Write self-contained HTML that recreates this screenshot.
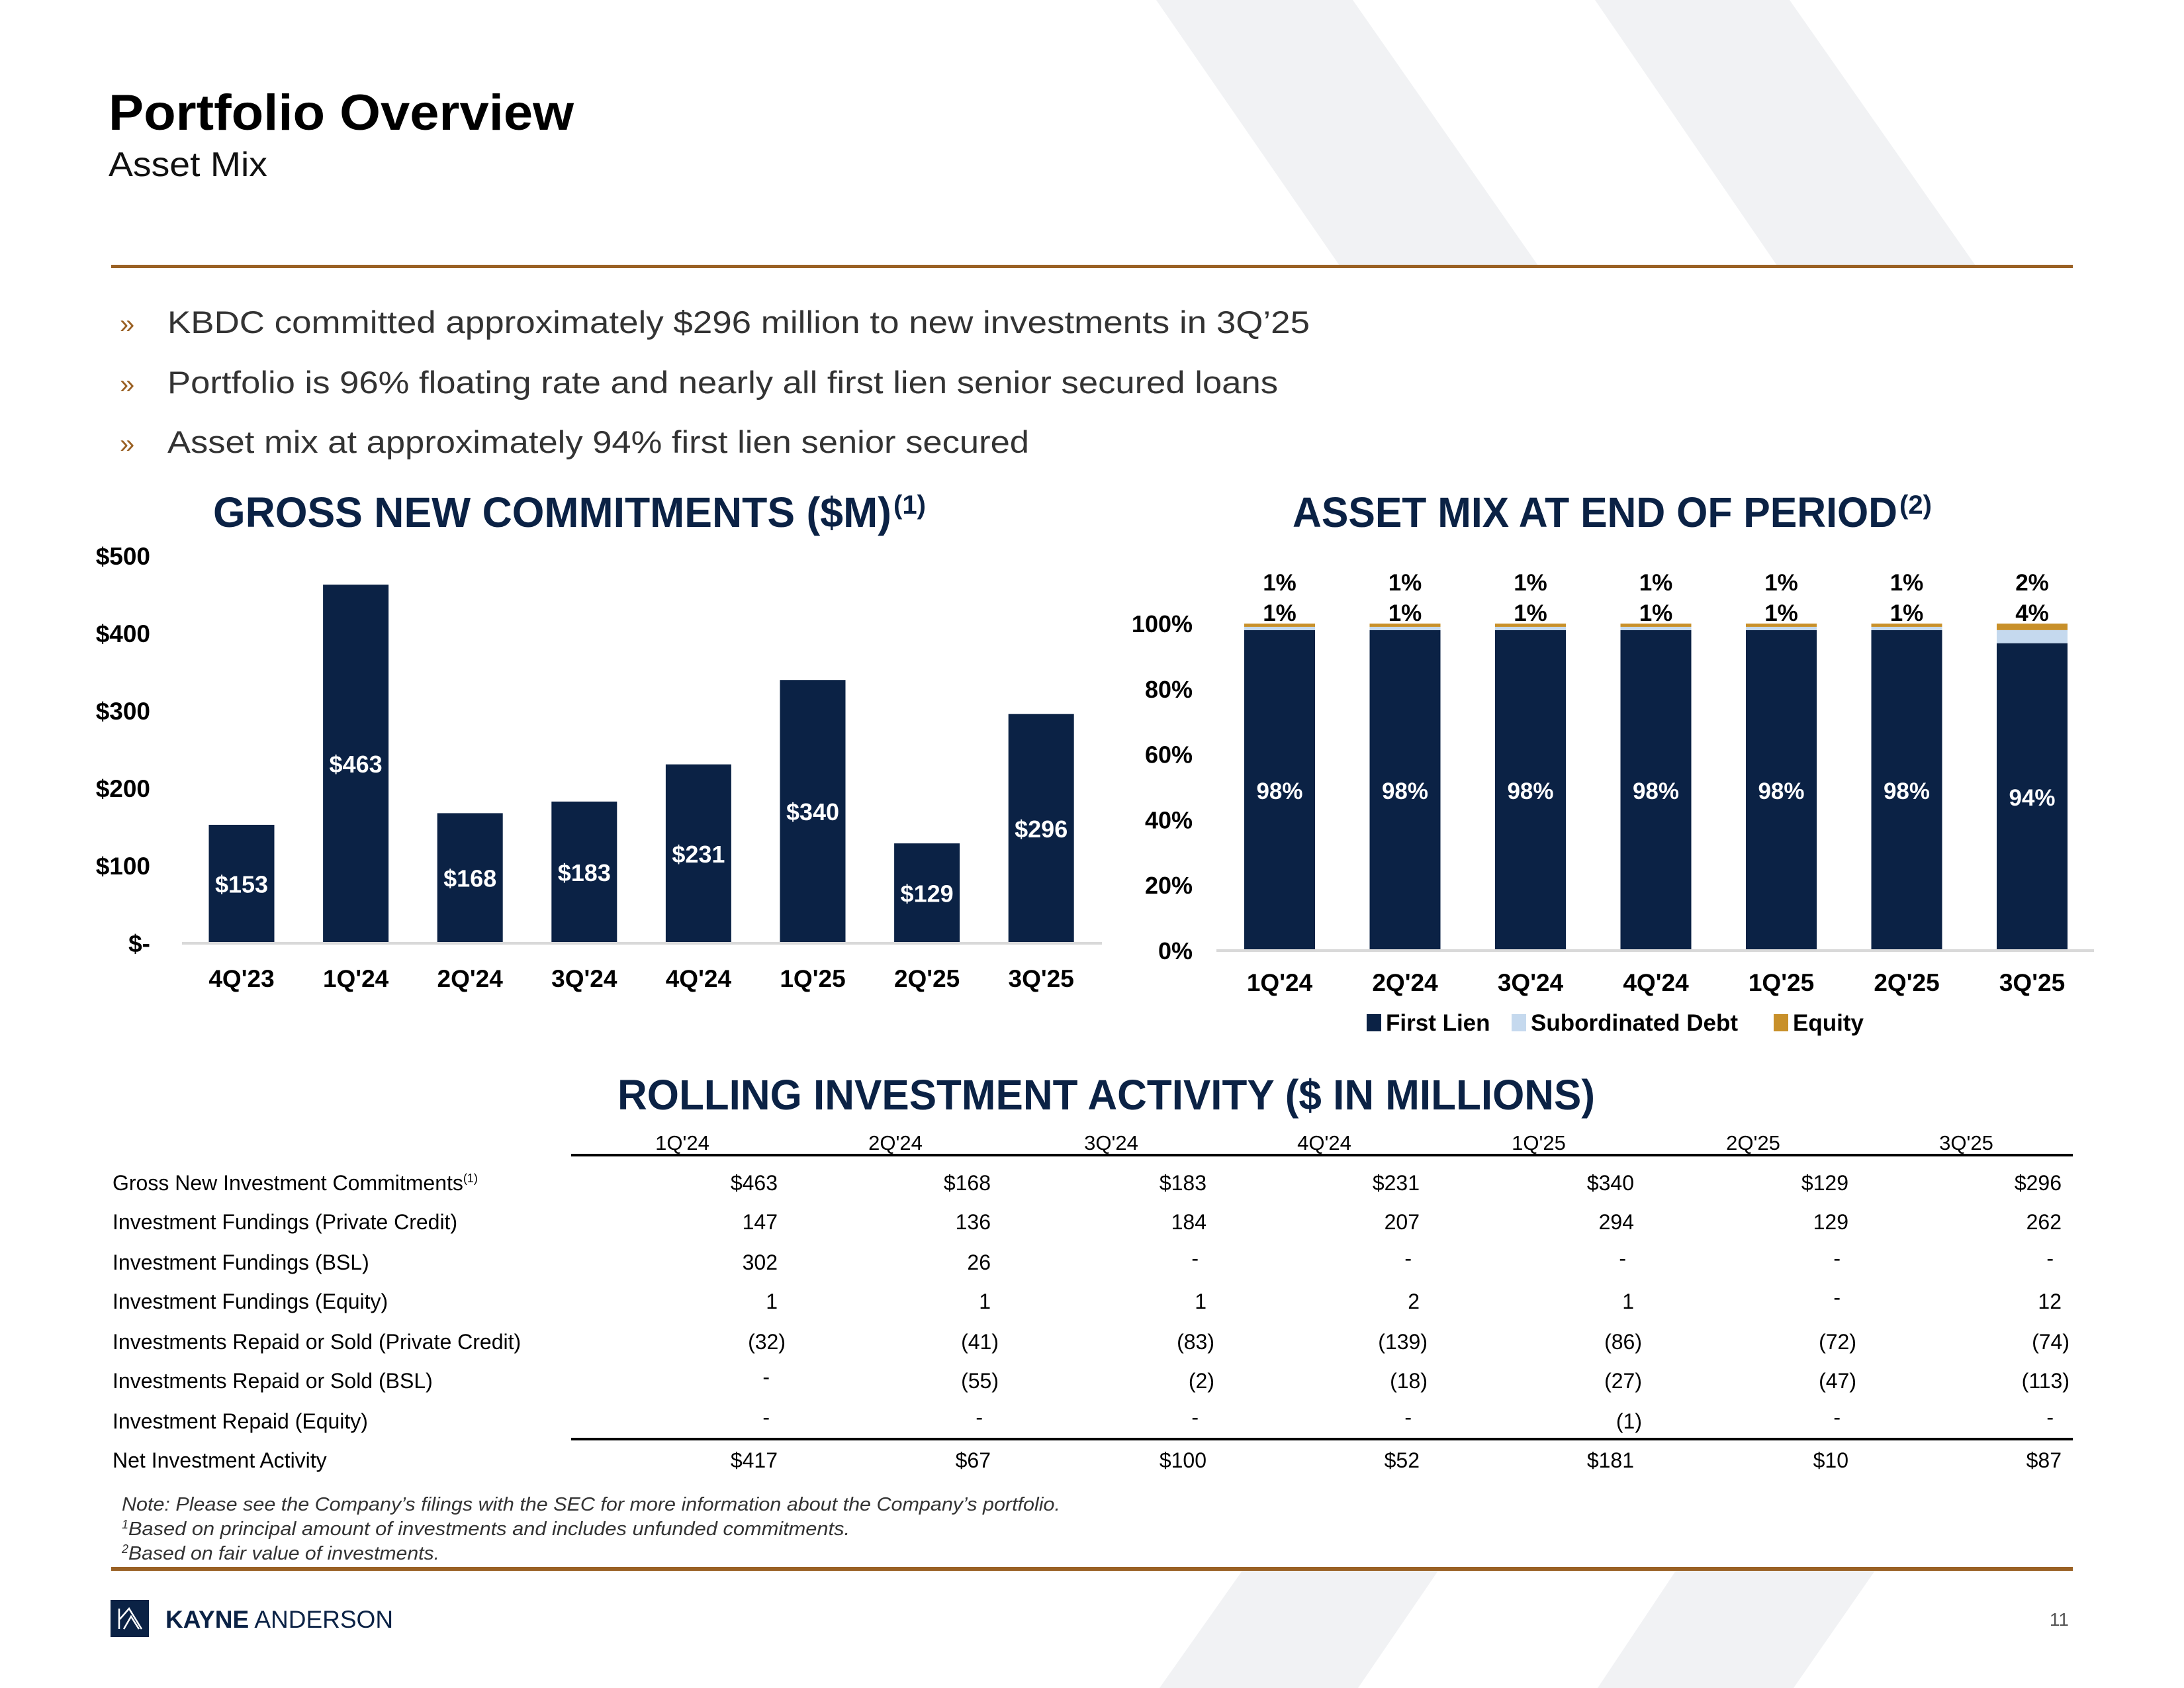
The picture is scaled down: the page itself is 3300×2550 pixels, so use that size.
<!DOCTYPE html>
<html><head><meta charset="utf-8"><style>
html,body{margin:0;padding:0;background:#fff;}
svg{display:block;font-family:"Liberation Sans",Arial,sans-serif;}
</style></head><body>
<svg id="s" width="3300" height="2550" viewBox="0 0 3300 2550" xmlns="http://www.w3.org/2000/svg">
<g fill="#f1f2f4">
<polygon points="1747,0 2044,0 2326,404 2026,404"/>
<polygon points="2410,0 2704,0 2987,404 2687,404"/>
<polygon points="1879,2370 2175,2370 2052,2550 1752,2550"/>
<polygon points="2534,2370 2835,2370 2710,2550 2414,2550"/>
</g>
<text x="164" y="196" font-size="76" font-weight="bold" fill="#000" textLength="703" lengthAdjust="spacingAndGlyphs">Portfolio Overview</text>
<text x="164" y="266" font-size="52" fill="#111" textLength="240" lengthAdjust="spacingAndGlyphs">Asset Mix</text>
<rect x="168" y="400" width="2964" height="5" fill="#9a6124"/>
<g font-size="47" fill="#333">
<text x="181" y="503" fill="#9a6124" font-size="40">»</text>
<text x="253" y="503" textLength="1726" lengthAdjust="spacingAndGlyphs">KBDC committed approximately $296 million to new investments in 3Q’25</text>
<text x="181" y="594" fill="#9a6124" font-size="40">»</text>
<text x="253" y="594" textLength="1678" lengthAdjust="spacingAndGlyphs">Portfolio is 96% floating rate and nearly all first lien senior secured loans</text>
<text x="181" y="684" fill="#9a6124" font-size="40">»</text>
<text x="253" y="684" textLength="1302" lengthAdjust="spacingAndGlyphs">Asset mix at approximately 94% first lien senior secured</text>
</g>
<text x="322" y="796" font-size="64" font-weight="bold" fill="#0b2245" textLength="1025" lengthAdjust="spacingAndGlyphs">GROSS NEW COMMITMENTS ($M)</text>
<text x="1350" y="776" font-size="40" font-weight="bold" fill="#0b2245">(1)</text>
<g id="left"></g>
<text x="1953" y="796" font-size="64" font-weight="bold" fill="#0b2245" textLength="914" lengthAdjust="spacingAndGlyphs">ASSET MIX AT END OF PERIOD</text>
<text x="2870" y="776" font-size="40" font-weight="bold" fill="#0b2245">(2)</text>
<g id="right"></g>
<text x="933" y="1676" font-size="64" font-weight="bold" fill="#0b2245" textLength="1477" lengthAdjust="spacingAndGlyphs">ROLLING INVESTMENT ACTIVITY ($ IN MILLIONS)</text>
<g id="tbl"></g>
<g font-size="29" font-style="italic" fill="#333">
<text x="184" y="2282" textLength="1418" lengthAdjust="spacingAndGlyphs">Note:  Please see the Company’s filings with the SEC for more information about the Company’s portfolio.</text>
<text x="184" y="2319"><tspan font-size="18" dy="-10">1</tspan><tspan dy="10" textLength="1090" lengthAdjust="spacingAndGlyphs">Based on principal amount of investments and includes unfunded commitments.</tspan></text>
<text x="184" y="2356"><tspan font-size="18" dy="-10">2</tspan><tspan dy="10" textLength="470" lengthAdjust="spacingAndGlyphs">Based on fair value of investments.</tspan></text>
</g>
<rect x="168" y="2367" width="2964" height="6" fill="#9a6124"/>
<g>
<rect x="167" y="2417" width="58" height="56" fill="#0b2245"/>
<path d="M180,2461 V2430 M181,2446 L195,2430 L214,2461 M187,2461 L198,2442 L210,2461" stroke="#fff" stroke-width="2.5" fill="none"/>
<text x="250" y="2459" font-size="37" fill="#0b2245"><tspan font-weight="bold">KAYNE</tspan> ANDERSON</text>
</g>
<text x="3126" y="2456" font-size="28" fill="#555" text-anchor="end">11</text>
</svg>
<script>
var gCats=["4Q'23","1Q'24","2Q'24","3Q'24","4Q'24","1Q'25","2Q'25","3Q'25"];
var gVals=[153,463,168,183,231,340,129,296];
var gTicks=[0,100,200,300,400,500];
var gTickLabels=["$-","$100","$200","$300","$400","$500"];
var mCats=["1Q'24","2Q'24","3Q'24","4Q'24","1Q'25","2Q'25","3Q'25"];
var mFirst=[98,98,98,98,98,98,94];
var mSub=[1,1,1,1,1,1,4];
var mEq=[1,1,1,1,1,1,2];
var mTicks=[0,20,40,60,80,100];
var tCols=["1Q'24","2Q'24","3Q'24","4Q'24","1Q'25","2Q'25","3Q'25"];
var tLabels=["Gross New Investment Commitments","Investment Fundings (Private Credit)","Investment Fundings (BSL)","Investment Fundings (Equity)","Investments Repaid or Sold (Private Credit)","Investments Repaid or Sold (BSL)","Investment Repaid (Equity)","Net Investment Activity"];
var tRows=[
["$463","$168","$183","$231","$340","$129","$296"],
["147","136","184","207","294","129","262"],
["302","26","-","-","-","-","-"],
["1","1","1","2","1","-","12"],
["(32)","(41)","(83)","(139)","(86)","(72)","(74)"],
["-","(55)","(2)","(18)","(27)","(47)","(113)"],
["-","-","-","-","(1)","-","-"],
["$417","$67","$100","$52","$181","$10","$87"]];
var NS="http://www.w3.org/2000/svg";
function el(p,t,a,txt){var e=document.createElementNS(NS,t);for(var k in a)e.setAttribute(k,a[k]);if(txt!=null)e.textContent=txt;p.appendChild(e);return e;}
// left chart
var L=document.getElementById('left');
function ly(v){return 1425-v*(1425-840)/500;}
function lx(i){return 365+i*172.6;}
gTicks.forEach(function(t,i){var e=el(L,'text',{x:227,y:ly(t)+13,'font-size':37,'font-weight':'bold','text-anchor':'end',fill:'#000'},gTickLabels[i]);

});
gVals.forEach(function(v,i){
var r=el(L,'rect',{x:lx(i)-49.5,y:ly(v),width:99,height:ly(0)-ly(v),fill:'#0b2245'});


var t=el(L,'text',{x:lx(i),y:(ly(v)+ly(0))/2+13,'font-size':36,'font-weight':'bold','text-anchor':'middle',fill:'#fff'},'$'+v);


var c=el(L,'text',{x:lx(i),y:1491,'font-size':37,'font-weight':'bold','text-anchor':'middle',fill:'#000'},gCats[i]);

});
var ax=el(L,'rect',{x:275,y:1423,width:1390,height:4,fill:'#d9d9d9'});


// right chart
var R=document.getElementById('right');
function ry(v){return 1436-v*(1436-942)/100;}
function rx(i){return 1880+i*189.5;}
mTicks.forEach(function(t){var e=el(R,'text',{x:1802,y:ry(t)+13,'font-size':36,'font-weight':'bold','text-anchor':'end',fill:'#000'},t+'%');

});
mCats.forEach(function(c,i){
var b0=0;
[[mFirst,'#0b2245','first-lien'],[mSub,'#c5d9ee','subordinated-debt'],[mEq,'#c8902a','equity']].forEach(function(s){
var v=s[0][i];var r=el(R,'rect',{x:rx(i),y:ry(b0+v),width:107,height:ry(b0)-ry(b0+v),fill:s[1]});


b0+=v;});
var t=el(R,'text',{x:rx(i)+53.5,y:ry(mFirst[i]/2)+13,'font-size':35,'font-weight':'bold','text-anchor':'middle',fill:'#fff'},mFirst[i]+'%');


var t1=el(R,'text',{x:rx(i)+53.5,y:892,'font-size':35,'font-weight':'bold','text-anchor':'middle',fill:'#000'},mEq[i]+'%');


var t2=el(R,'text',{x:rx(i)+53.5,y:938,'font-size':35,'font-weight':'bold','text-anchor':'middle',fill:'#000'},mSub[i]+'%');


var ct=el(R,'text',{x:rx(i)+53.5,y:1497,'font-size':37,'font-weight':'bold','text-anchor':'middle',fill:'#000'},c);

});
var ax2=el(R,'rect',{x:1838,y:1434,width:1326,height:4,fill:'#d9d9d9'});


[['First Lien','#0b2245',2065],['Subordinated Debt','#c5d9ee',2284],['Equity','#c8902a',2680]].forEach(function(l){
var g=el(R,'g',{});


el(g,'rect',{x:l[2],y:1532,width:22,height:26,fill:l[1]});
el(g,'text',{x:l[2]+29,y:1557,'font-size':35,'font-weight':'bold',fill:'#000'},l[0]);});
// table
var T=document.getElementById('tbl');
var colR=[1175,1497,1823,2145,2469,2793,3115];
var rowY=[1787,1846,1907,1966,2027,2086,2147,2206];
tCols.forEach(function(c,i){var e=el(T,'text',{x:colR[i]-144,y:1737,'font-size':31,'text-anchor':'middle',fill:'#000'},c);

});
var hl=el(T,'rect',{x:863,y:1743,width:2269,height:4,fill:'#000'});


var nl=el(T,'rect',{x:863,y:2172,width:2269,height:4,fill:'#000'});


tLabels.forEach(function(l,r){
var t=el(T,'text',{x:170,y:rowY[r]+11,'font-size':32,fill:'#000'},l);


if(r===0){el(t,'tspan',{'font-size':18,dy:-12},'(1)');}
tRows[r].forEach(function(v,i){
var x=colR[i],y=rowY[r]+11;
if(v.charAt(0)==='(')x+=12;
if(v==='-'){x-=12;y-=6;}
var c=el(T,'text',{x:x,y:y,'font-size':32,'text-anchor':'end',fill:'#000'},v);

});});
</script>
</body></html>
